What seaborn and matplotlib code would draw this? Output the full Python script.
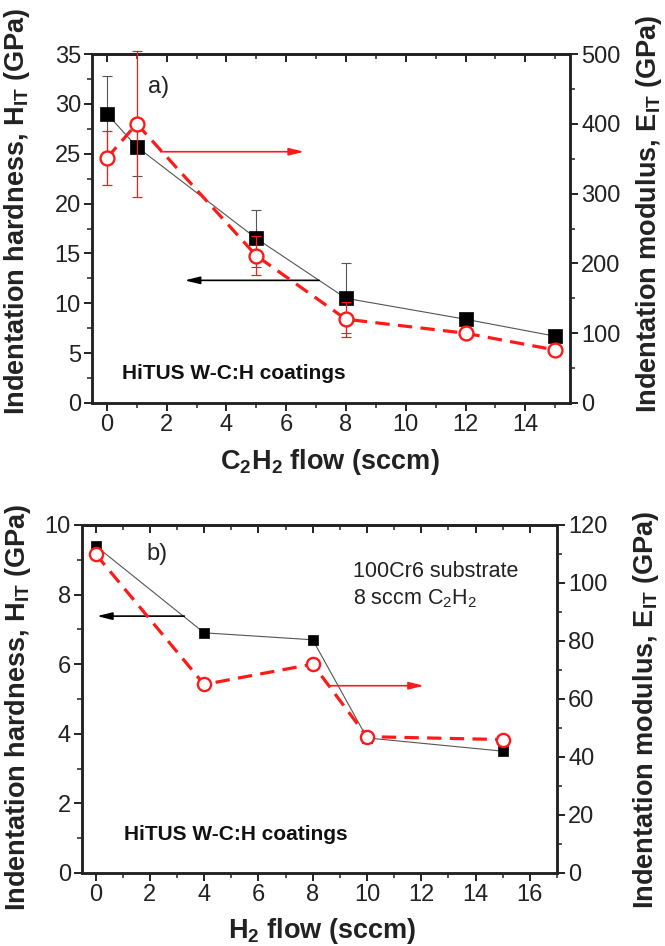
import numpy as np
import pandas as pd
import matplotlib
matplotlib.use('Agg')
import matplotlib.pyplot as plt
import seaborn as sns
from matplotlib.ticker import MultipleLocator

# ---------------- data ----------------
# panel a: C2H2 flow series
c2h2_flow = [0, 1, 5, 8, 12, 15]
hard_a = [29.0, 25.7, 16.5, 10.5, 8.4, 6.7]
hard_a_err = [3.8, 2.9, 2.9, 3.5, 0.5, 0.3]
mod_a = [351, 400, 211, 120, 100, 76]
mod_a_err = [39, 105, 28, 25, 3, 4]

# panel b: H2 flow series
h2_flow = [0, 4, 8, 10, 15]
hard_b = [9.4, 6.9, 6.7, 3.88, 3.5]
mod_b = [110, 65, 72, 47, 46]

# ---------------- style ----------------
sns.set_style('ticks')
plt.rcParams['font.family'] = ['Liberation Sans', 'DejaVu Sans']
plt.rcParams['mathtext.fontset'] = 'custom'
plt.rcParams['mathtext.rm'] = 'Liberation Sans'
plt.rcParams['mathtext.bf'] = 'Liberation Sans:bold'
plt.rcParams['mathtext.it'] = 'Liberation Sans:italic'

SP = '#222222'
RED = '#ff1a1a'
TICK_FS = 17
LAB_FS = 19.5

fig = plt.figure(figsize=(6.65, 9.46), dpi=100)
ax1 = fig.add_axes([0.1383, 0.574, 0.719, 0.3689])
ax2 = fig.add_axes([0.1233, 0.0772, 0.7143, 0.3679])


def style_axes(ax, axr, xlim, xmaj, ylim, ymaj, ymin, rlim, rmaj, rmin):
    ax.set_xlim(*xlim)
    ax.set_ylim(*ylim)
    axr.set_ylim(*rlim)
    ax.xaxis.set_major_locator(MultipleLocator(xmaj))
    ax.xaxis.set_minor_locator(MultipleLocator(1))
    ax.yaxis.set_major_locator(MultipleLocator(ymaj))
    ax.yaxis.set_minor_locator(MultipleLocator(ymin))
    axr.yaxis.set_major_locator(MultipleLocator(rmaj))
    axr.yaxis.set_minor_locator(MultipleLocator(rmin))
    for a in (ax, axr):
        for s in a.spines.values():
            s.set_linewidth(1.8)
            s.set_color(SP)
            s.set_visible(True)
        a.tick_params(which='major', direction='out', length=6, width=1.4,
                      color=SP, labelsize=TICK_FS, labelcolor='#222222', pad=2)
        a.tick_params(which='minor', direction='out', length=3.5, width=1.1, color=SP)
    axr.tick_params(axis='y', which='both', right=True, left=False)
    ax.tick_params(axis='y', which='both', right=False)
    sec = ax.secondary_xaxis('top')
    sec.xaxis.set_major_locator(MultipleLocator(xmaj))
    sec.xaxis.set_minor_locator(MultipleLocator(1))
    sec.tick_params(which='major', direction='in', length=6, width=1.4, color=SP,
                    labeltop=False)
    sec.tick_params(which='minor', direction='in', length=3.5, width=1.1, color=SP)
    sec.spines['top'].set_linewidth(1.8)
    sec.spines['top'].set_color(SP)


ARROW = '-|>,head_length=0.9,head_width=0.22'

# ---------------- panel a ----------------
ax1r = ax1.twinx()
ax1r.set_position(ax1.get_position())

eb = ax1.errorbar(c2h2_flow, hard_a, yerr=hard_a_err, fmt='none', ecolor='#555555',
                  elinewidth=0.8, capsize=3.5, capthick=0.8, zorder=3)
sns.lineplot(x=c2h2_flow, y=hard_a, ax=ax1, color='#555555', lw=0.8, zorder=2)
sns.scatterplot(x=c2h2_flow, y=hard_a, ax=ax1, marker='s', s=95, color='black',
                edgecolor='black', linewidth=0.5, zorder=4)

ebr = ax1r.errorbar(c2h2_flow, mod_a, yerr=mod_a_err, fmt='none', ecolor=RED,
                    elinewidth=0.9, capsize=3.5, capthick=0.9, zorder=3)
for art in ebr.lines[1] + ebr.lines[2]:
    art.set_clip_on(False)
sns.lineplot(x=c2h2_flow, y=mod_a, ax=ax1r, color=RED, lw=2.3,
             linestyle=(0, (4.5, 2.6)), zorder=2)
sns.scatterplot(x=c2h2_flow, y=mod_a, ax=ax1r, marker='o', s=100, color='white',
                edgecolor=RED, linewidth=1.7, zorder=5)

style_axes(ax1, ax1r, (-0.5, 15.5), 2, (0, 35), 5, 2.5, (0, 500), 100, 50)

ax1.annotate('', xy=(6.6, 25.2), xytext=(1.8, 25.2),
             arrowprops=dict(arrowstyle=ARROW, color=RED, lw=1.2,
                             shrinkA=0, shrinkB=0), zorder=6)
ax1.annotate('', xy=(2.6, 12.3), xytext=(7.1, 12.3),
             arrowprops=dict(arrowstyle=ARROW, color='black', lw=1.2,
                             shrinkA=0, shrinkB=0), zorder=6)
ax1.text(1.37, 31.1, 'a)', fontsize=17, color='#222222', va='baseline', ha='left')
ax1.text(0.5, 2.45, 'HiTUS W-C:H coatings', fontsize=15, fontweight='bold',
         color='#111111', va='baseline', ha='left')

ax1.set_xlabel(r'$\mathbf{C_2H_2}$ flow (sccm)', fontsize=LAB_FS, fontweight='bold',
               color='#222222')
ax1.set_ylabel(r'Indentation hardness, $\mathbf{H_{IT}}$ (GPa)', fontsize=LAB_FS,
               fontweight='bold', color='#222222')
ax1r.set_ylabel(r'Indentation modulus, $\mathbf{E_{IT}}$ (GPa)', fontsize=LAB_FS,
                fontweight='bold', color='#222222')
ax1.xaxis.set_label_coords(0.498, -0.125)
ax1.yaxis.set_label_coords(-0.125, 0.548)
ax1r.yaxis.set_label_coords(1.133, 0.542)

# ---------------- panel b ----------------
ax2r = ax2.twinx()
ax2r.set_position(ax2.get_position())

sns.lineplot(x=h2_flow, y=hard_b, ax=ax2, color='#555555', lw=0.8, zorder=2)
sns.scatterplot(x=h2_flow, y=hard_b, ax=ax2, marker='s', s=55, color='black',
                edgecolor='black', linewidth=0.5, zorder=4)
sns.lineplot(x=h2_flow, y=mod_b, ax=ax2r, color=RED, lw=2.3,
             linestyle=(0, (4.5, 2.6)), zorder=2)
sns.scatterplot(x=h2_flow, y=mod_b, ax=ax2r, marker='o', s=90, color='white',
                edgecolor=RED, linewidth=1.7, zorder=5)

style_axes(ax2, ax2r, (-0.5, 17), 2, (0, 10), 2, 1, (0, 120), 20, 10)

ax2.annotate('', xy=(0.05, 7.38), xytext=(3.27, 7.38),
             arrowprops=dict(arrowstyle=ARROW, color='black', lw=1.2,
                             shrinkA=0, shrinkB=0), zorder=6)
ax2.annotate('', xy=(12.1, 5.38), xytext=(8.6, 5.38),
             arrowprops=dict(arrowstyle=ARROW, color=RED, lw=1.2,
                             shrinkA=0, shrinkB=0), zorder=6)
ax2.text(1.86, 8.99, 'b)', fontsize=17, color='#222222', va='baseline', ha='left')
ax2.text(9.47, 8.49, '100Cr6 substrate', fontsize=15.5, color='#222222',
         va='baseline', ha='left')
ax2.text(9.47, 7.72, r'8 sccm C$_2$H$_2$', fontsize=15.5, color='#222222',
         va='baseline', ha='left')
ax2.text(1.05, 0.94, 'HiTUS W-C:H coatings', fontsize=15, fontweight='bold',
         color='#111111', va='baseline', ha='left')

ax2.set_xlabel(r'$\mathbf{H_2}$ flow (sccm)', fontsize=LAB_FS, fontweight='bold',
               color='#222222')
ax2.set_ylabel(r'Indentation hardness, $\mathbf{H_{IT}}$ (GPa)', fontsize=LAB_FS,
               fontweight='bold', color='#222222')
ax2r.set_ylabel(r'Indentation modulus, $\mathbf{E_{IT}}$ (GPa)', fontsize=LAB_FS,
                fontweight='bold', color='#222222')
ax2.xaxis.set_label_coords(0.505, -0.124)
ax2.yaxis.set_label_coords(-0.103, 0.477)
ax2r.yaxis.set_label_coords(1.155, 0.47)

fig.savefig('out.png', dpi=100)
